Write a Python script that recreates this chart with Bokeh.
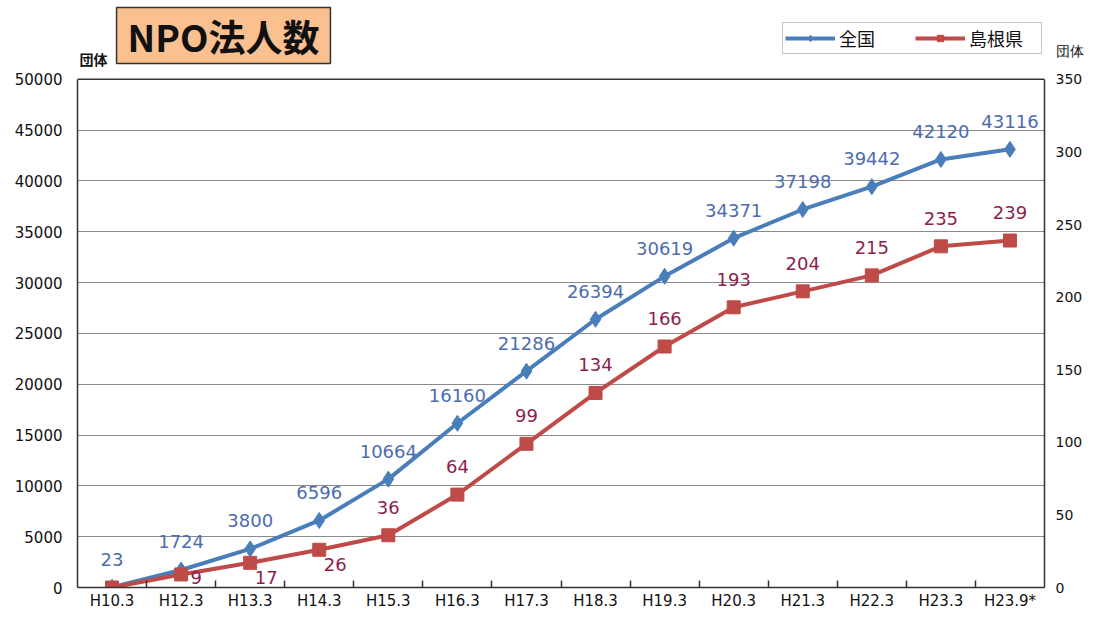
from bokeh.plotting import figure
from bokeh.models import (Range1d, LinearAxis, FixedTicker, Label, Legend,
                          LegendItem, ColumnDataSource, Span)
from bokeh.core.properties import value
from bokeh.embed import file_html
from bokeh.resources import INLINE

# ---- data ----
categories = ["H10.3", "H12.3", "H13.3", "H14.3", "H15.3", "H16.3", "H17.3",
              "H18.3", "H19.3", "H20.3", "H21.3", "H22.3", "H23.3", "H23.9*"]
zenkoku = [23, 1724, 3800, 6596, 10664, 16160, 21286, 26394, 30619, 34371,
           37198, 39442, 42120, 43116]
shimane = [0, 9, 17, 26, 36, 64, 99, 134, 166, 193, 204, 215, 235, 239]
left_ticks = [0, 5000, 10000, 15000, 20000, 25000, 30000, 35000, 40000, 45000, 50000]
right_ticks = [0, 50, 100, 150, 200, 250, 300, 350]
left_max = 50000
right_max = 350
series_names = ["全国", "島根県"]
unit_label = "団体"
title_text = "NPO法人数"

# style: where the Shimane value label sits
shimane_label_pos = ["none", "edge", "below", "below", "above", "above", "above",
                     "above", "above", "above", "above", "above", "above", "above"]

BLUE = "#4A7EBB"
RED = "#BE4B48"
BLUE_TXT = "#4D6CAE"
RED_TXT = "#8C1F4C"
FRAME = "#333333"
NUM_FONT_NAME = "DejaVu Sans"
JP_FONT_NAME = "Noto Sans CJK JP"
NUM_FONT = value(NUM_FONT_NAME)

# layout constants (pixels)
FIG_W, FIG_H = 1086, 612
TOP, BOTTOM_B, LEFT_B, RIGHT_B = 4, 24, 77, 38
CHART_TOP = 79                     # pixel row of the top of the chart box
frame_h = FIG_H - TOP - BOTTOM_B
head = frame_h / (frame_h - (CHART_TOP - TOP))   # headroom factor above the box

n = len(categories)
xc = [i + 0.5 for i in range(n)]

p = figure(width=FIG_W, height=FIG_H, x_range=Range1d(0, n),
           y_range=Range1d(0, left_max * head),
           output_backend="svg", toolbar_location=None,
           min_border_left=LEFT_B, min_border_right=RIGHT_B, min_border_top=TOP,
           min_border_bottom=BOTTOM_B, background_fill_color="white",
           border_fill_color="white")
p.extra_y_ranges = {"right": Range1d(0, right_max * head)}

p.outline_line_color = None
p.xgrid.grid_line_color = None
p.ygrid.ticker = FixedTicker(ticks=left_ticks)
p.ygrid.grid_line_color = "#8a8a8a"
p.ygrid.grid_line_width = 1.2
p.add_layout(Span(location=left_max, dimension="width", line_color=FRAME,
                  line_width=1.5))

# x axis
xa = p.xaxis[0]
xa.ticker = FixedTicker(ticks=xc, minor_ticks=list(range(1, n)))
xa.major_label_overrides = {c: lab for c, lab in zip(xc, categories)}
xa.major_tick_line_color = None
xa.major_tick_out = 0
xa.major_tick_in = 0
xa.minor_tick_in = 7
xa.minor_tick_out = 0
xa.minor_tick_line_color = FRAME
xa.minor_tick_line_width = 1.5
xa.axis_line_color = FRAME
xa.axis_line_width = 1.5
xa.major_label_standoff = 4
xa.major_label_text_font = NUM_FONT_NAME
xa.major_label_text_font_size = "15px"
xa.major_label_text_color = "#111111"

# left axis
ya = p.yaxis[0]
ya.ticker = FixedTicker(ticks=left_ticks)
ya.bounds = (0, left_max)
ya.major_tick_line_color = None
ya.minor_tick_line_color = None
ya.major_tick_out = 0
ya.major_tick_in = 0
ya.axis_line_color = FRAME
ya.axis_line_width = 1.5
ya.major_label_standoff = 15
ya.major_label_text_font = NUM_FONT_NAME
ya.major_label_text_font_size = "15px"
ya.major_label_text_color = "#111111"

# right axis (its unit caption sits on an extra tick above the box)
unit_tick = right_max * 1.055
ra = LinearAxis(y_range_name="right",
                ticker=FixedTicker(ticks=right_ticks + [unit_tick]),
                bounds=(0, right_max))
ra.major_label_overrides = {unit_tick: unit_label}
ra.major_tick_line_color = None
ra.minor_tick_line_color = None
ra.major_tick_out = 0
ra.major_tick_in = 0
ra.axis_line_color = FRAME
ra.axis_line_width = 1.5
ra.major_label_standoff = 11
ra.major_label_text_font = NUM_FONT_NAME
ra.major_label_text_font_size = "14px"
ra.major_label_text_color = "#111111"
p.add_layout(ra, "right")

# series
src_b = ColumnDataSource(dict(x=xc, y=zenkoku, t=[str(v) for v in zenkoku]))
src_r = ColumnDataSource(dict(x=xc, y=shimane))

bl = p.line("x", "y", source=src_b, line_color=BLUE, line_width=4)
bm = p.scatter("x", "y", source=src_b, marker="diamond", size=16,
               fill_color=BLUE, line_color=BLUE)
rl = p.line("x", "y", source=src_r, line_color=RED, line_width=4, y_range_name="right")
rm = p.scatter("x", "y", source=src_r, marker="square", size=13,
               fill_color=RED, line_color=RED, y_range_name="right")

# value labels
p.text("x", "y", text="t", source=src_b, text_align="center", text_baseline="middle",
       y_offset=-28, text_font=NUM_FONT, text_font_size="18px", text_color=BLUE_TXT)


def red_labels(kind, dx, dy):
    idx = [i for i in range(n) if shimane_label_pos[i] == kind]
    src = ColumnDataSource(dict(x=[xc[i] for i in idx], y=[shimane[i] for i in idx],
                                t=[str(shimane[i]) for i in idx]))
    p.text("x", "y", text="t", source=src, y_range_name="right", text_align="center",
           text_baseline="middle", x_offset=dx, y_offset=dy, text_font=NUM_FONT,
           text_font_size="18px", text_color=RED_TXT)


red_labels("above", 0, -28)
red_labels("below", 16, 15)
red_labels("edge", 15, 3)

# legend
legend = Legend(items=[LegendItem(label=series_names[0], renderers=[bl, bm]),
                       LegendItem(label=series_names[1], renderers=[rl, rm])],
                orientation="horizontal", location=(705, frame_h - 55 + TOP),
                glyph_width=50, glyph_height=16, label_standoff=4, spacing=6,
                label_width=70, label_height=20,
                padding=2, margin=0, border_line_color="#888888",
                border_line_width=1.5, background_fill_color="white",
                background_fill_alpha=1.0, label_text_font=JP_FONT_NAME,
                label_text_font_size="18px", label_text_color="#111111")
p.add_layout(legend, "center")

# left unit caption and title box
p.add_layout(Label(x=2, y=frame_h - 59 + TOP, x_units="screen", y_units="screen",
                   text=unit_label, text_align="left", text_baseline="middle",
                   text_font=JP_FONT_NAME, text_font_size="14px",
                   text_font_style="bold", text_color="#111111"))

title_kw = dict(x=146, y=frame_h - 36 + TOP, x_units="screen", y_units="screen",
                text=title_text, text_align="center", text_baseline="middle",
                text_font=JP_FONT_NAME, text_font_size="37px",
                text_font_style="bold", text_color="#111111",
                background_fill_color="#FAC090", border_line_color=FRAME,
                border_line_width=1.5)
try:
    title_label = Label(padding=(11, 1), **title_kw)
except Exception:
    title_label = Label(padding=3, **title_kw)
p.add_layout(title_label)

open("out.html", "w").write(file_html(p, INLINE))
